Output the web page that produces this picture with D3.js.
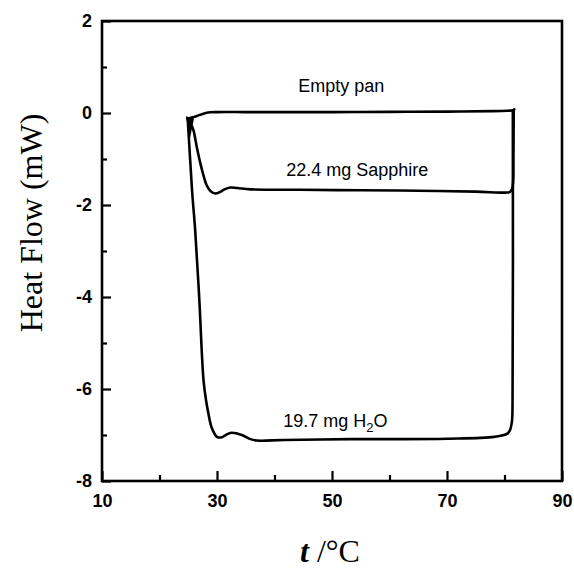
<!DOCTYPE html>
<html><head><meta charset="utf-8">
<script src="https://cdn.jsdelivr.net/npm/d3@7"></script>
<style>
html,body{margin:0;padding:0;background:#fff;}
svg{display:block;}
</style></head>
<body>
<svg id="chart" width="574" height="571"></svg>
<script>
// ---- data ----
const xTicksMajor = [10, 30, 50, 70, 90];
const xTicksMinor = [20, 40, 60, 80];
const yTicksMajor = [-8, -6, -4, -2, 0, 2];
const yTicksMinor = [-7, -5, -3, -1, 1];

const emptyPanT = [24.9, 25.6, 26.5, 27.5, 28.8, 30, 35, 40, 50, 60, 70, 78, 80.5, 81.5, 81.7];
const emptyPanQ = [-0.12, -0.1, -0.065, -0.02, 0.015, 0.02, 0.02, 0.02, 0.02, 0.025, 0.03, 0.04, 0.05, 0.06, 0.08];

const sapphireT = [24.9, 25.5, 25.9, 26.5, 27.1, 27.7, 28.2, 28.9, 29.7, 30.5, 31.3, 32.3, 33.5, 35.8, 44.5, 55, 65, 75, 80.2, 80.9, 81.3, 81.5, 81.55, 81.6];
const sapphireQ = [-0.12, -0.25, -0.37, -0.75, -1.09, -1.38, -1.57, -1.70, -1.75, -1.72, -1.66, -1.62, -1.63, -1.66, -1.67, -1.68, -1.69, -1.71, -1.73, -1.72, -1.66, -1.5, -1.0, 0.06];

const waterT = [24.9, 25.3, 25.7, 26.2, 26.9, 27.65, 28.1, 28.5, 29.1, 30.0, 30.85, 31.8, 32.6, 34.3, 35.8, 36.9, 41.6, 53.2, 60.8, 70, 78.2, 80.5, 81.0, 81.3, 81.4, 81.45];
const waterQ = [-0.12, -0.95, -1.75, -2.54, -4.0, -5.8, -6.25, -6.53, -6.85, -7.04, -7.05, -6.98, -6.95, -7.0, -7.09, -7.12, -7.11, -7.09, -7.09, -7.08, -7.04, -6.97, -6.88, -6.7, -6.3, 0.05];

const labels = ["Empty pan", "22.4 mg Sapphire"];

// ---- chart ----
const svg = d3.select("#chart");
const x = d3.scaleLinear().domain([10, 90]).range([102, 562]);
const y = d3.scaleLinear().domain([-8, 2]).range([481, 21]);

const tickFont = "Liberation Sans, Arial, Helvetica, sans-serif";

// minor ticks
svg.append("g").attr("transform", `translate(${x(10)},0)`)
  .call(d3.axisLeft(y).tickValues(yTicksMinor).tickSize(-5).tickFormat(""))
  .call(g => g.select(".domain").remove())
  .call(g => g.selectAll("line").attr("stroke-width", 2.2));
svg.append("g").attr("transform", `translate(0,${y(-8)})`)
  .call(d3.axisBottom(x).tickValues(xTicksMinor).tickSize(-6).tickFormat(""))
  .call(g => g.select(".domain").remove())
  .call(g => g.selectAll("line").attr("stroke-width", 2.2));

// major ticks
svg.append("g").attr("transform", `translate(${x(10)},0)`)
  .call(d3.axisLeft(y).tickValues(yTicksMajor).tickSize(-9).tickPadding(10).tickFormat(d => d3.format("d")(d).replace("−", "-")))
  .call(g => g.select(".domain").remove())
  .call(g => g.selectAll("line").attr("stroke-width", 2.2))
  .call(g => g.selectAll("text").attr("font-family", tickFont).attr("font-size", 18).attr("font-weight", "bold").attr("fill", "#000"));
svg.append("g").attr("transform", `translate(0,${y(-8)})`)
  .call(d3.axisBottom(x).tickValues(xTicksMajor).tickSize(-10).tickPadding(13).tickFormat(d3.format("d")))
  .call(g => g.select(".domain").remove())
  .call(g => g.selectAll("line").attr("stroke-width", 2.2))
  .call(g => g.selectAll("text").attr("font-family", tickFont).attr("font-size", 18).attr("font-weight", "bold").attr("fill", "#000"));

// frame
svg.append("rect")
  .attr("x", x(10)).attr("y", y(2))
  .attr("width", x(90) - x(10)).attr("height", y(-8) - y(2))
  .attr("fill", "none").attr("stroke", "#000").attr("stroke-width", 2.6);

// curves
const line = d3.line().x(d => x(d[0])).y(d => y(d[1])).curve(d3.curveCatmullRom.alpha(0.5));
const series = [
  d3.zip(emptyPanT, emptyPanQ),
  d3.zip(sapphireT, sapphireQ),
  d3.zip(waterT, waterQ)
];
svg.append("g").selectAll("path").data(series).join("path")
  .attr("d", line)
  .attr("fill", "none").attr("stroke", "#000").attr("stroke-width", 2.6)
  .attr("stroke-linejoin", "round").attr("stroke-linecap", "round");

// start marker (thick triangle where curves begin)
svg.append("path")
  .attr("d", d3.line()([[x(24.6), y(-0.07)], [x(26.0), y(-0.12)], [x(25.3), y(-0.55)]]) + "Z")
  .attr("fill", "#000");

// annotations
const annFont = "Liberation Sans, Arial, Helvetica, sans-serif";
svg.append("text").attr("x", x(51.6)).attr("y", y(0.46)).attr("text-anchor", "middle")
  .attr("font-family", annFont).attr("font-size", 18).attr("fill", "#000").text(labels[0]);
svg.append("text").attr("x", x(54.4)).attr("y", y(-1.38)).attr("text-anchor", "middle")
  .attr("font-family", annFont).attr("font-size", 18).attr("fill", "#000").text(labels[1]);
const w = svg.append("text").attr("x", x(41.5)).attr("y", y(-6.82))
  .attr("font-family", annFont).attr("font-size", 18).attr("fill", "#000");
w.append("tspan").text("19.7 mg H");
w.append("tspan").attr("dy", 5).attr("font-size", 13).text("2");
w.append("tspan").attr("dy", -5).text("O");

// axis titles
svg.append("text").attr("transform", "translate(42,223) rotate(-90)")
  .attr("text-anchor", "middle")
  .attr("font-family", "Liberation Serif, Times New Roman, serif").attr("font-size", 32).attr("fill", "#000")
  .text("Heat Flow (mW)");
const xt = svg.append("text").attr("x", 330).attr("y", 562).attr("text-anchor", "middle")
  .attr("font-family", "Liberation Serif, Times New Roman, serif").attr("font-size", 32).attr("fill", "#000");
xt.append("tspan").attr("font-style", "italic").attr("font-weight", "bold").text("t");
xt.append("tspan").text(" /°C");
</script>
</body></html>
